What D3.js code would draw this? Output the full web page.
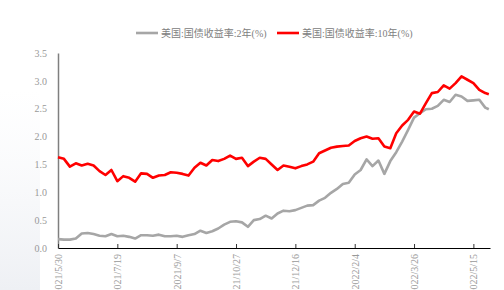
<!DOCTYPE html>
<html lang="zh">
    <head>
        <meta charset="utf-8" />
        <title>美国国债收益率</title>
        <script type="text/javascript" src="https://cdn.jsdelivr.net/npm/d3@7"></script>
        <style type="text/css">
            body {
                margin: 0;
                background: #ffffff;
            }
            svg text {
                font-family: "Liberation Serif", "Noto Sans CJK SC", serif;
            }
        </style>
    </head>
    <body>
        <script type="text/javascript">
            // 日期（约每5天一个点）
            var dates = [
                "2021/5/30", "2021/6/4", "2021/6/9", "2021/6/14", "2021/6/19", "2021/6/24", "2021/6/29",
                "2021/7/4", "2021/7/9", "2021/7/14", "2021/7/19", "2021/7/24", "2021/7/29",
                "2021/8/3", "2021/8/8", "2021/8/13", "2021/8/18", "2021/8/23", "2021/8/28",
                "2021/9/2", "2021/9/7", "2021/9/12", "2021/9/17", "2021/9/22", "2021/9/27",
                "2021/10/2", "2021/10/7", "2021/10/12", "2021/10/17", "2021/10/22", "2021/10/27",
                "2021/11/1", "2021/11/6", "2021/11/11", "2021/11/16", "2021/11/21", "2021/11/26",
                "2021/12/1", "2021/12/6", "2021/12/11", "2021/12/16", "2021/12/21", "2021/12/26", "2021/12/31",
                "2022/1/5", "2022/1/10", "2022/1/15", "2022/1/20", "2022/1/25", "2022/1/30",
                "2022/2/4", "2022/2/9", "2022/2/14", "2022/2/19", "2022/2/24",
                "2022/3/1", "2022/3/6", "2022/3/11", "2022/3/16", "2022/3/21", "2022/3/26", "2022/3/31",
                "2022/4/5", "2022/4/10", "2022/4/15", "2022/4/20", "2022/4/25", "2022/4/30",
                "2022/5/5", "2022/5/10", "2022/5/15", "2022/5/20", "2022/5/25", "2022/5/28"
            ];
            // 美国:国债收益率:2年(%)
            var y2 = [
                0.16, 0.15, 0.15, 0.17, 0.26, 0.27, 0.25,
                0.22, 0.21, 0.25, 0.21, 0.22, 0.20,
                0.17, 0.23, 0.23, 0.22, 0.24, 0.21,
                0.21, 0.22, 0.20, 0.23, 0.25, 0.31,
                0.27, 0.30, 0.35, 0.42, 0.47, 0.48,
                0.46, 0.38, 0.50, 0.52, 0.58, 0.53,
                0.62, 0.67, 0.66, 0.68, 0.72, 0.76, 0.77,
                0.85, 0.90, 0.99, 1.06, 1.15, 1.17,
                1.32, 1.40, 1.59, 1.47, 1.57,
                1.33, 1.56, 1.72, 1.91, 2.12, 2.34, 2.42,
                2.49, 2.50, 2.55, 2.66, 2.62, 2.75,
                2.72, 2.64, 2.65, 2.66, 2.52, 2.49
            ];
            // 美国:国债收益率:10年(%)
            var y10 = [
                1.63, 1.60, 1.46, 1.52, 1.48, 1.51, 1.48,
                1.38, 1.31, 1.40, 1.20, 1.29, 1.26,
                1.19, 1.34, 1.33, 1.26, 1.30, 1.31,
                1.36, 1.35, 1.33, 1.30, 1.44, 1.53,
                1.48, 1.58, 1.56, 1.60, 1.66, 1.60,
                1.62, 1.47, 1.55, 1.62, 1.60, 1.50,
                1.40, 1.48, 1.46, 1.43, 1.47, 1.50, 1.55,
                1.70, 1.75, 1.80, 1.82, 1.83, 1.84,
                1.92, 1.97, 2.00, 1.96, 1.97,
                1.82, 1.79, 2.06, 2.20, 2.30, 2.45, 2.41,
                2.60, 2.78, 2.80, 2.92, 2.86, 2.96,
                3.08, 3.02, 2.96, 2.84, 2.78, 2.76
            ];
            var tickDates = ["2021/5/30", "2021/7/19", "2021/9/7", "2021/10/27",
                "2021/12/16", "2022/2/4", "2022/3/26", "2022/5/15"];
            var yTicks = [0, 0.5, 1.0, 1.5, 2.0, 2.5, 3.0, 3.5];
            var seriesNames = ["美国:国债收益率:2年(%)", "美国:国债收益率:10年(%)"];
            var seriesColors = ["#a6a6a6", "#ff0000"];

            var w = 504;
            var h = 290;
            var padLeft = 58, padRight = 490, padTop = 53, padBottom = 248;

            var parse = d3.timeParse("%Y/%-m/%-d");

            var xScale = d3
                .scaleTime()
                .domain([parse("2021/5/30"), parse("2022/5/29")])
                .range([padLeft, padRight]);

            var yScale = d3
                .scaleLinear()
                .domain([0, 3.5])
                .range([padBottom, padTop]);

            var svg = d3
                .select("body")
                .append("svg")
                .attr("width", w)
                .attr("height", h);

            // faint watermark at left
            var grad = svg.append("defs").append("linearGradient")
                .attr("id", "wm")
                .attr("x1", 0).attr("y1", 0).attr("x2", 0).attr("y2", 1);
            grad.append("stop").attr("offset", "0%").attr("stop-color", "#f4f6f9").attr("stop-opacity", 0);
            grad.append("stop").attr("offset", "100%").attr("stop-color", "#eef0f4").attr("stop-opacity", 1);
            svg.append("rect")
                .attr("x", 0).attr("y", 90)
                .attr("width", 40).attr("height", 200)
                .attr("fill", "url(#wm)");

            // y axis
            var yAxis = d3.axisLeft(yScale)
                .tickValues(yTicks)
                .tickSize(0)
                .tickPadding(11)
                .tickFormat(d3.format(".1f"));
            var gy = svg.append("g")
                .attr("transform", "translate(" + padLeft + ",0)")
                .call(yAxis);
            gy.select(".domain")
                .attr("stroke", "#7f7f7f")
                .attr("stroke-width", 1.5);
            gy.selectAll("text")
                .attr("fill", "#999999")
                .attr("font-size", "10px");

            // x axis
            var xAxis = d3.axisBottom(xScale)
                .tickValues(tickDates.map(parse))
                .tickSizeInner(-4)
                .tickSizeOuter(0)
                .tickFormat(d3.timeFormat("%Y/%-m/%-d"));
            var gx = svg.append("g")
                .attr("transform", "translate(0," + padBottom + ")")
                .call(xAxis);
            gx.select(".domain")
                .attr("stroke", "#000000")
                .attr("stroke-width", 1.2);
            gx.selectAll(".tick line")
                .attr("stroke", "#333333");
            gx.selectAll("text")
                .attr("fill", "#999999")
                .attr("font-size", "10px")
                .attr("text-anchor", "end")
                .attr("transform", "rotate(-90)")
                .attr("x", -6)
                .attr("y", 0)
                .attr("dy", "0.35em");

            // lines
            var allSeries = [y2, y10];
            var line = d3.line()
                .x(function(d, i) {
                    return xScale(parse(dates[i]));
                })
                .y(function(d) {
                    return yScale(d);
                });

            svg.selectAll("path.series")
                .data(allSeries)
                .enter()
                .append("path")
                .attr("class", "series")
                .attr("d", line)
                .attr("fill", "none")
                .attr("stroke", function(d, i) {
                    return seriesColors[i];
                })
                .attr("stroke-width", 2.6)
                .attr("stroke-linejoin", "round");

            // legend
            var legendX = [136, 277];
            var legend = svg.selectAll("g.legend")
                .data(seriesNames)
                .enter()
                .append("g")
                .attr("class", "legend")
                .attr("transform", function(d, i) {
                    return "translate(" + legendX[i] + ",33)";
                });
            legend.append("line")
                .attr("x1", 0).attr("x2", 22)
                .attr("y1", 0).attr("y2", 0)
                .attr("stroke", function(d, i) {
                    return seriesColors[i];
                })
                .attr("stroke-width", 2.6);
            legend.append("text")
                .attr("x", 25)
                .attr("y", 0)
                .attr("dy", "0.35em")
                .attr("fill", "#808080")
                .attr("font-size", "10px")
                .text(function(d) {
                    return d;
                });
        </script>
    </body>
</html>
